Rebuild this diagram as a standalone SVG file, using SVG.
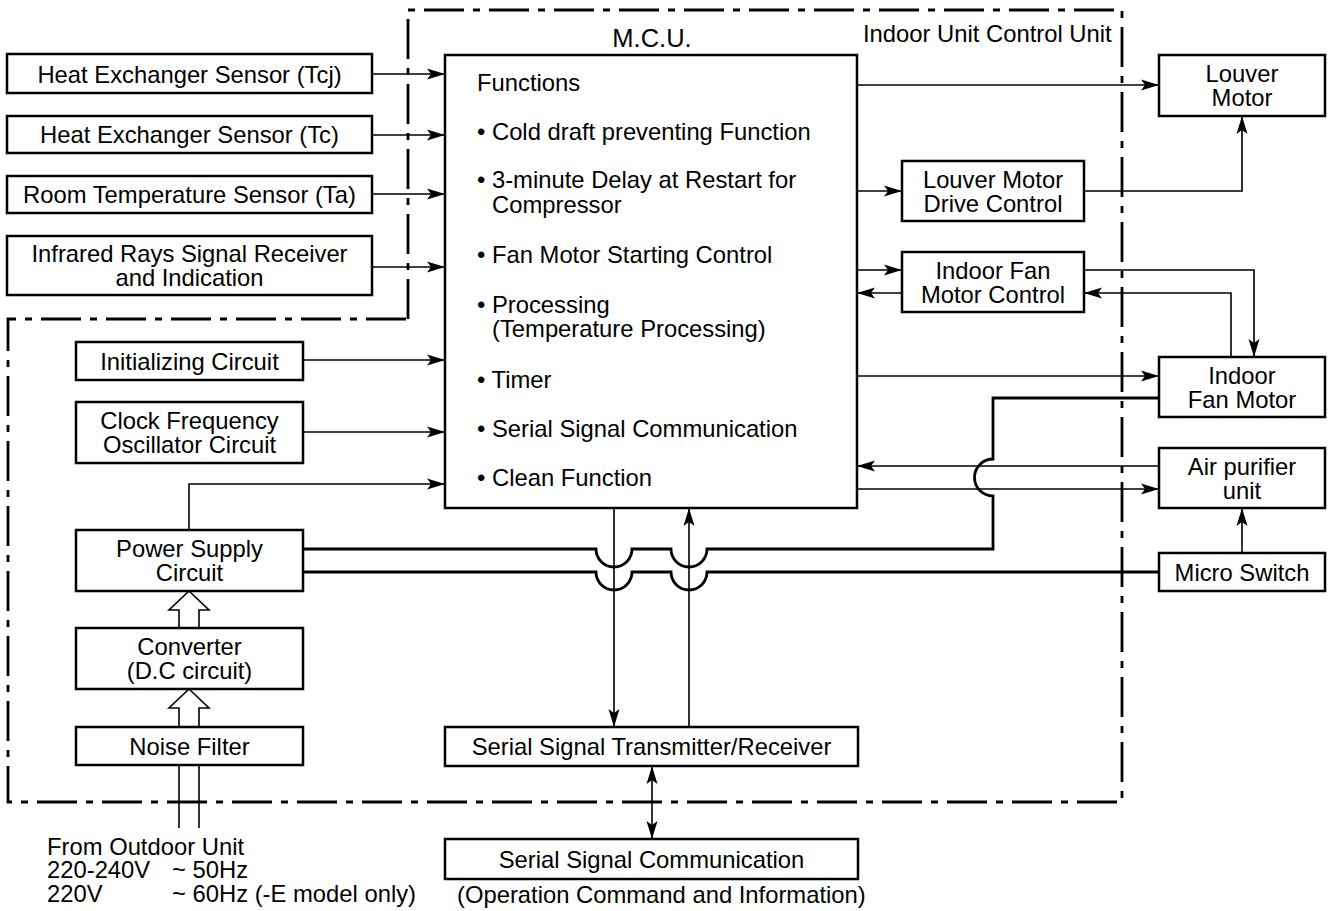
<svg xmlns="http://www.w3.org/2000/svg" width="1334" height="911" viewBox="0 0 1334 911">
<style>
.box{fill:#fff;stroke:#000;stroke-width:2.5}
.t{font-family:"Liberation Sans",Arial,Helvetica,sans-serif;font-size:23.8px;fill:#000}
.c{text-anchor:middle}
.thin{fill:none;stroke:#000;stroke-width:1.6}
.thick{fill:none;stroke:#000;stroke-width:2.8}
.arr{fill:none;stroke:#000;stroke-width:1.6;marker-end:url(#ah)}
.bound{fill:none;stroke:#000;stroke-width:2.8;stroke-dasharray:40 9 7 9}
.hollow{fill:#fff;stroke:#000;stroke-width:1.6}
</style>
<defs>
<marker id="ah" markerUnits="userSpaceOnUse" markerWidth="18" markerHeight="12" refX="18" refY="5.5" orient="auto-start-reverse" viewBox="0 0 18 11">
<path d="M0,0 L18,5.5 L0,11 L4,5.5 z" fill="#000"/>
</marker>
</defs>
<rect width="1334" height="911" fill="#fff"/>

<g id="boundary">
<path class="bound" d="M408,319 V10 H1122 V802 H8 V319 Z"/>
<text class="t" x="863" y="42">Indoor Unit Control Unit</text>
</g>

<g id="connectors">
<path class="arr" d="M372,74 H445"/>
<path class="arr" d="M372,135 H445"/>
<path class="arr" d="M372,194 H445"/>
<path class="arr" d="M372,267 H445"/>
<path class="arr" d="M303,360 H445"/>
<path class="arr" d="M303,432 H445"/>
<path class="arr" d="M189,530 V484 H445"/>
<path class="arr" d="M857,85 H1159"/>
<path class="arr" d="M857,191 H902"/>
<path class="arr" d="M1084,191 H1242 V116"/>
<path class="arr" d="M857,270 H902"/>
<path class="arr" d="M902,293 H857"/>
<path class="arr" d="M1084,270 H1254 V357"/>
<path class="arr" d="M1231,357 V293 H1084"/>
<path class="arr" d="M857,376 H1159"/>
<path class="arr" d="M1159,466 H857"/>
<path class="arr" d="M857,489 H1159"/>
<path class="arr" d="M1242,553 V508"/>
<path class="arr" d="M614,508 V727"/>
<path class="arr" d="M689,727 V508"/>
<path class="arr" d="M652,766 V839" marker-start="url(#ah)"/>
<path class="thick" d="M303,549 H596 A18 18 0 0 0 632,549 H671 A18 18 0 0 0 707,549 H993 V496 A18.5 18.5 0 0 1 993,459 V398 H1159"/>
<path class="thick" d="M303,572 H596 A18 18 0 0 0 632,572 H671 A18 18 0 0 0 707,572 H1159"/>
<path class="hollow" d="M179,628 V610 H169 L189,591 L209,610 H199 V628"/>
<path class="hollow" d="M179,727 V708 H169 L189,689 L209,708 H199 V727"/>
<path class="thin" d="M179,765 V828 M199,765 V828"/>
</g>

<g id="sensor-tcj"><rect class="box" x="7" y="54" width="365" height="39"/><text class="t c" x="189.5" y="82.5">Heat Exchanger Sensor (Tcj)</text></g>
<g id="sensor-tc"><rect class="box" x="7" y="116" width="365" height="37"/><text class="t c" x="189.5" y="143">Heat Exchanger Sensor (Tc)</text></g>
<g id="sensor-ta"><rect class="box" x="7" y="176" width="365" height="37"/><text class="t c" x="189.5" y="203">Room Temperature Sensor (Ta)</text></g>
<g id="infrared"><rect class="box" x="7" y="236" width="365" height="59"/><text class="t c"><tspan x="189.5" y="262">Infrared Rays Signal Receiver</tspan><tspan x="189.5" y="286">and Indication</tspan></text></g>
<g id="init"><rect class="box" x="76" y="342" width="227" height="38"/><text class="t c" x="189.5" y="369.5">Initializing Circuit</text></g>
<g id="clock"><rect class="box" x="76" y="402" width="227" height="61"/><text class="t c"><tspan x="189.5" y="429">Clock Frequency</tspan><tspan x="189.5" y="453">Oscillator Circuit</tspan></text></g>
<g id="power"><rect class="box" x="76" y="530" width="227" height="61"/><text class="t c"><tspan x="189.5" y="557">Power Supply</tspan><tspan x="189.5" y="581">Circuit</tspan></text></g>
<g id="converter"><rect class="box" x="76" y="628" width="227" height="61"/><text class="t c"><tspan x="189.5" y="655">Converter</tspan><tspan x="189.5" y="679">(D.C circuit)</tspan></text></g>
<g id="noise"><rect class="box" x="76" y="727" width="227" height="38"/><text class="t c" x="189.5" y="754.5">Noise Filter</text></g>
<g id="outdoor">
<text class="t"><tspan x="47" y="855">From Outdoor Unit</tspan><tspan x="47" y="878">220-240V</tspan><tspan x="172" y="878">~ 50Hz</tspan><tspan x="47" y="902">220V</tspan><tspan x="172" y="902">~ 60Hz (-E model only)</tspan></text>
</g>

<g id="mcu">
<text class="t c" x="652" y="47" style="font-size:25.5px">M.C.U.</text>
<rect class="box" x="445" y="55" width="412" height="453"/>
<text class="t" x="477" y="91">Functions</text>
<text class="t" x="477" y="140">• Cold draft preventing Function</text>
<text class="t"><tspan x="477" y="188">• 3-minute Delay at Restart for</tspan><tspan x="492" y="213">Compressor</tspan></text>
<text class="t" x="477" y="263">• Fan Motor Starting Control</text>
<text class="t"><tspan x="477" y="313">• Processing</tspan><tspan x="492" y="337">(Temperature Processing)</tspan></text>
<text class="t" x="477" y="388">• Timer</text>
<text class="t" x="477" y="437">• Serial Signal Communication</text>
<text class="t" x="477" y="486">• Clean Function</text>
</g>

<g id="louver-motor"><rect class="box" x="1159" y="55" width="166" height="61"/><text class="t c"><tspan x="1242" y="82">Louver</tspan><tspan x="1242" y="106">Motor</tspan></text></g>
<g id="louver-drive"><rect class="box" x="902" y="161" width="182" height="60"/><text class="t c"><tspan x="993" y="187.5">Louver Motor</tspan><tspan x="993" y="211.5">Drive Control</tspan></text></g>
<g id="fan-control"><rect class="box" x="902" y="252" width="182" height="60"/><text class="t c"><tspan x="993" y="278.5">Indoor Fan</tspan><tspan x="993" y="302.5">Motor Control</tspan></text></g>
<g id="fan-motor"><rect class="box" x="1159" y="357" width="166" height="60"/><text class="t c"><tspan x="1242" y="383.5">Indoor</tspan><tspan x="1242" y="407.5">Fan Motor</tspan></text></g>
<g id="air-purifier"><rect class="box" x="1159" y="448" width="166" height="60"/><text class="t c"><tspan x="1242" y="474.5">Air purifier</tspan><tspan x="1242" y="498.5">unit</tspan></text></g>
<g id="micro-switch"><rect class="box" x="1159" y="553" width="166" height="38"/><text class="t c" x="1242" y="580.5">Micro Switch</text></g>
<g id="serial-tr"><rect class="box" x="445" y="727" width="413" height="39"/><text class="t c" x="651.5" y="755">Serial Signal Transmitter/Receiver</text></g>
<g id="serial-comm"><rect class="box" x="445" y="839" width="413" height="40"/><text class="t c" x="651.5" y="867.5">Serial Signal Communication</text><text class="t" x="457" y="903">(Operation Command and Information)</text></g>
</svg>
